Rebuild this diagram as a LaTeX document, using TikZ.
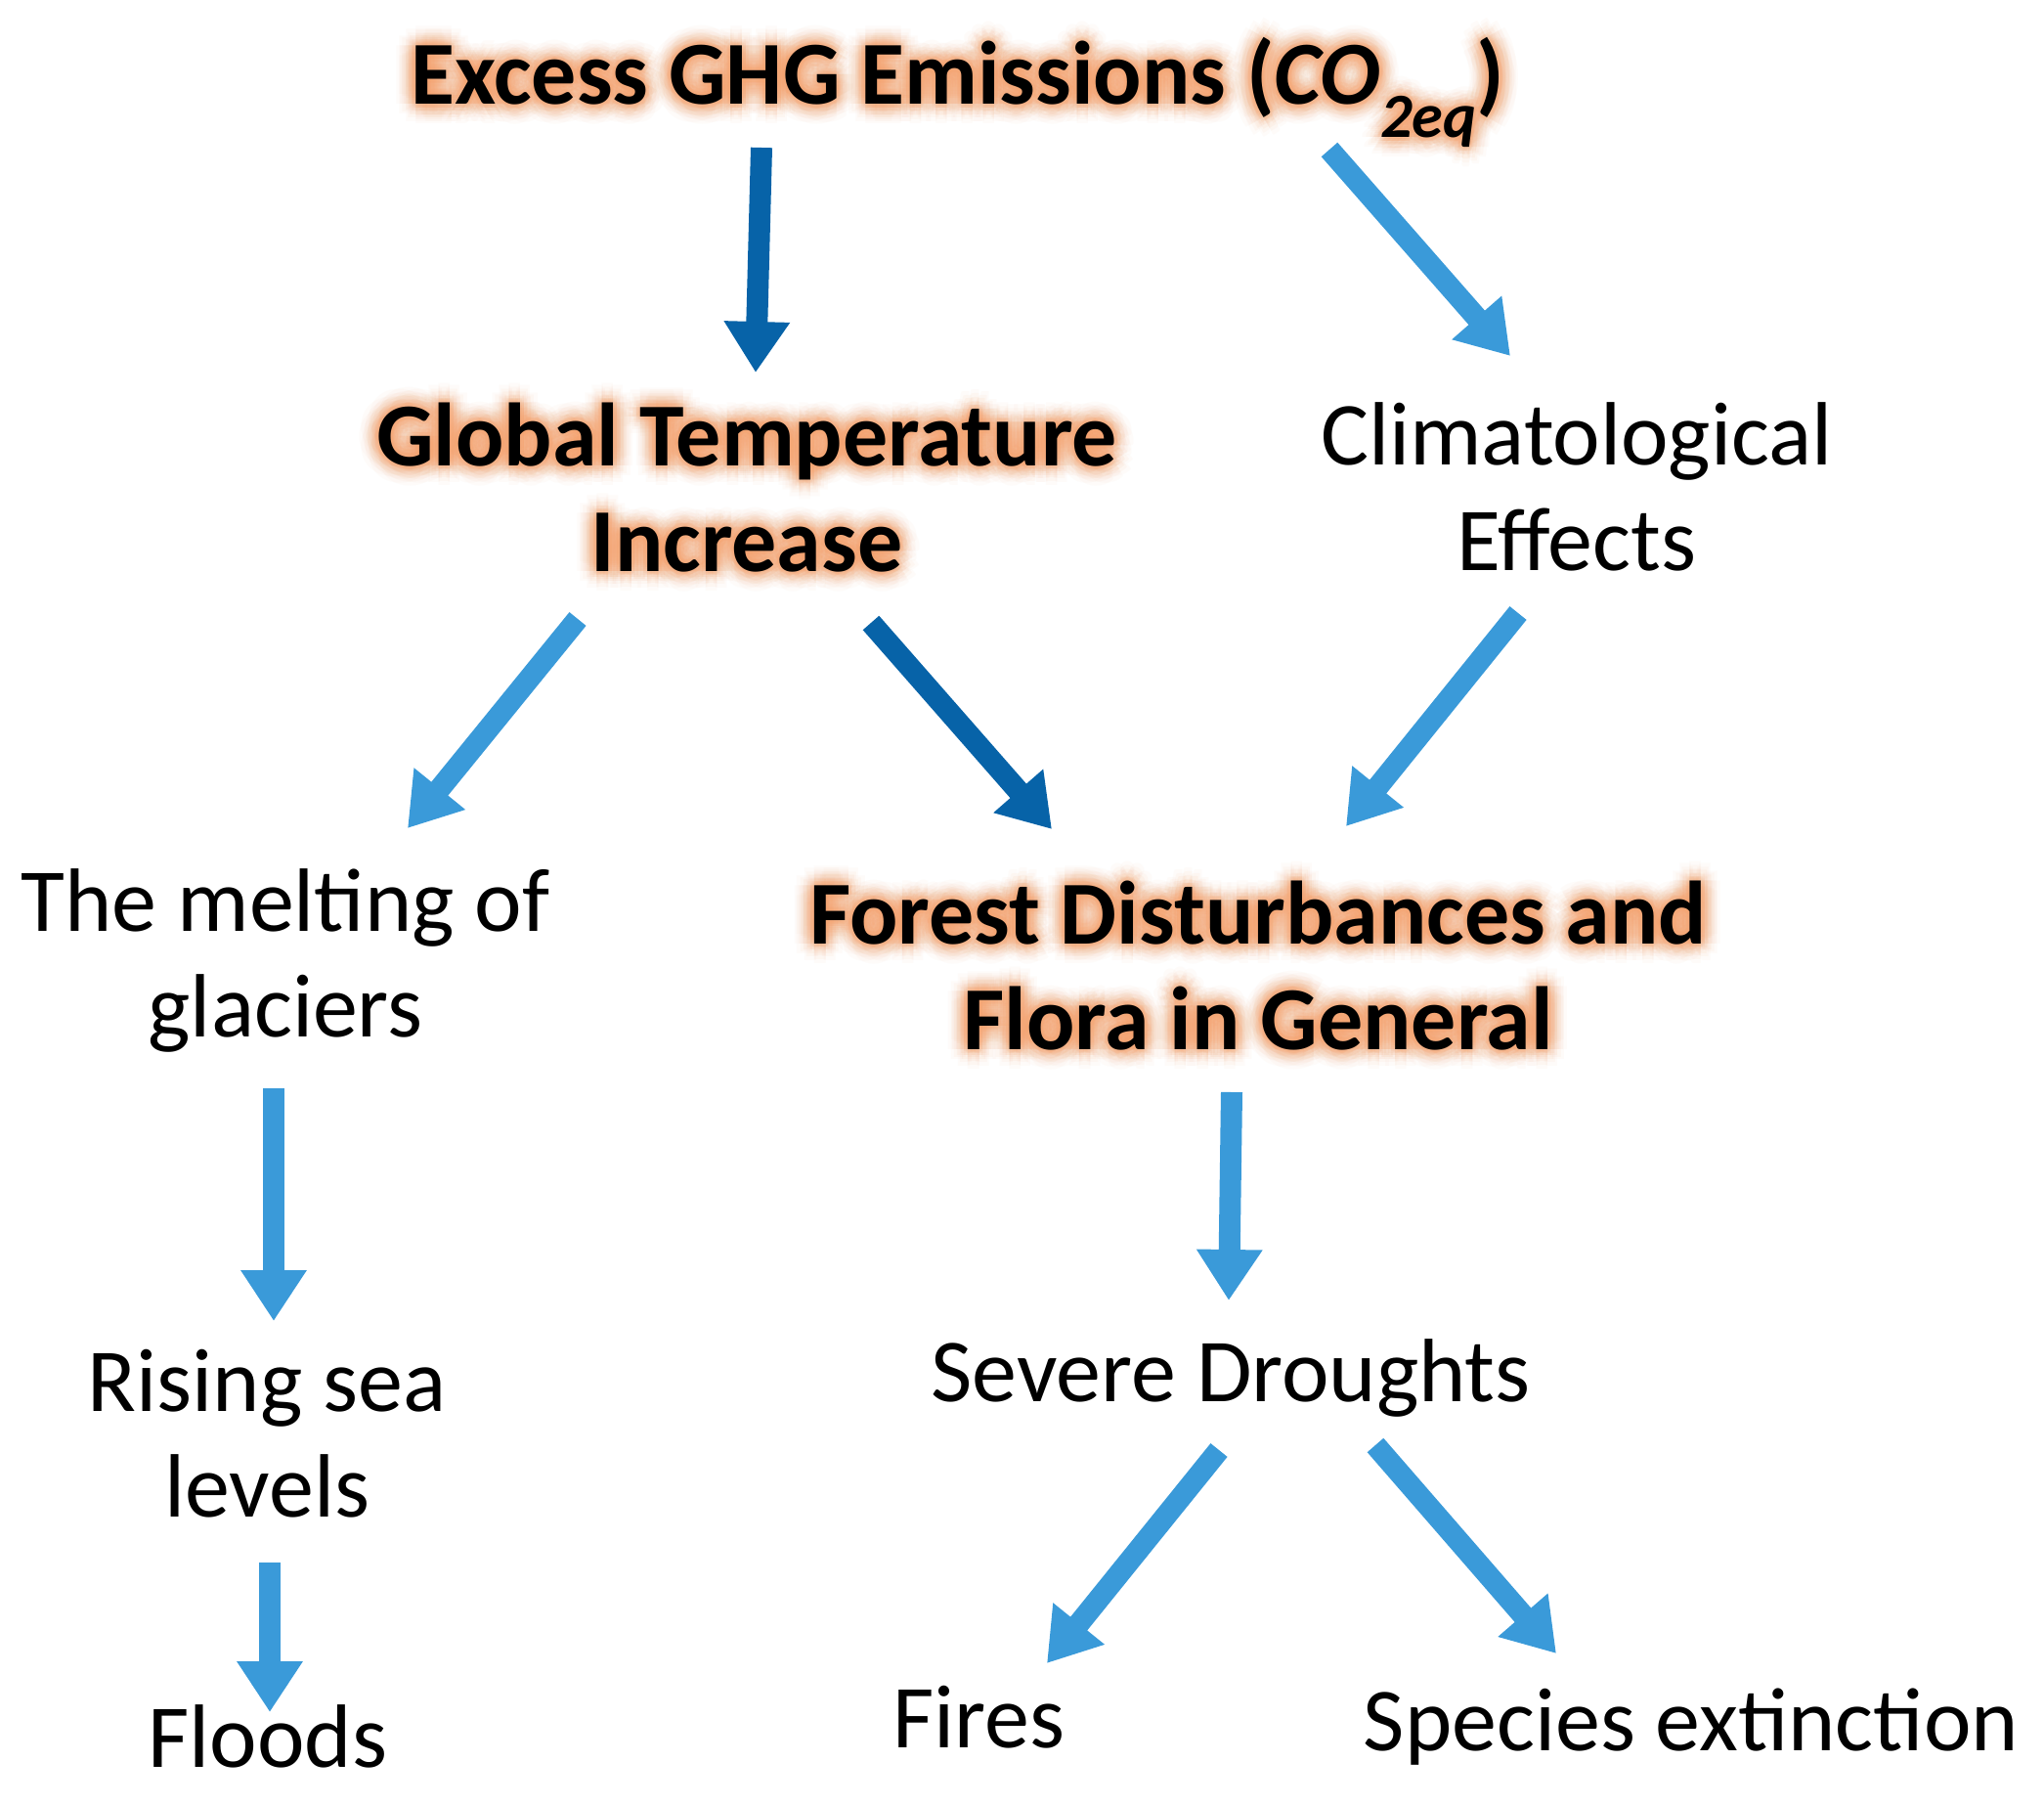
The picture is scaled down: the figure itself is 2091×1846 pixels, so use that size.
\documentclass[tikz,border=0pt]{standalone}
\usepackage{fontspec}
\setmainfont{Carlito}
\usetikzlibrary{arrows.meta,calc}
\definecolor{darkblue}{HTML}{0763A8}
\definecolor{lightblue}{HTML}{3A9AD9}
\definecolor{glowor}{HTML}{F4A26C}
\tikzset{
  lbl/.style={inner sep=0pt, anchor=base, align=center, font=\fontsize{92}{108}\selectfont, text=black},
  lblb/.style={lbl, font=\fontsize{92}{108}\selectfont\bfseries},
  glowst/.style={lblb, text=glowor},
  arr/.style={line width=22pt, -{Triangle[width=64pt,length=52pt]}},
  arrl/.style={arr, draw=lightblue},
  arrd/.style={arr, draw=darkblue},
}
\newcommand\glownode[3]{%
  \foreach \r/\o in {20/0.035,16/0.05,12/0.07,8/0.09,4/0.11}{%
    \foreach \a in {0,30,...,330}{%
      \node[glowst, text opacity=\o] (#1-g\r-\a) at ($(#2)+(\a:\r pt)$) {#3};
    }%
  }%
  \node[lblb] (#1) at (#2) {#3};%
}
\begin{document}
\begin{tikzpicture}[x=1pt,y=-1pt]
\useasboundingbox[fill=white] (0,0) rectangle (2091,1846);

% glowing (bold) labels; anchor = baseline of last line
\glownode{ghg}{980,107}{Excess GHG Emissions ({\itshape CO\textsubscript{\itshape 2eq}})}
\glownode{gti}{764,584}{Global Temperature\\Increase}
\glownode{forest}{1287,1073}{Forest Disturbances and\\Flora in General}

% plain labels
\node[lbl] (clim) at (1613,583) {Climatological\\Effects};
\node[lbl] (melt) at (292,1060) {The melting of\\glaciers};
\node[lbl] (sev) at (1259,1433) {Severe Droughts};
\node[lbl] (rise) at (273,1551) {Rising sea\\levels};
\node[lbl] (flood) at (274,1807) {Floods};
\node[lbl] (fire) at (1001,1787) {Fires};
\node[lbl] (spec) at (1730,1790) {Species extinction};

% arrow end points
\coordinate (a1s) at (779,151);  \coordinate (a1e) at (773,381);
\coordinate (a2s) at (1360,153); \coordinate (a2e) at (1545,364);
\coordinate (a3s) at (591,633);  \coordinate (a3e) at (417,847);
\coordinate (a4s) at (891,637);  \coordinate (a4e) at (1076,848);
\coordinate (a5s) at (1553,627); \coordinate (a5e) at (1377,845);
\coordinate (a6s) at (280,1113); \coordinate (a6e) at (280,1351);
\coordinate (a7s) at (1260,1117);\coordinate (a7e) at (1257,1330);
\coordinate (a8s) at (1247,1483);\coordinate (a8e) at (1071,1701);
\coordinate (a9s) at (1407,1478);\coordinate (a9e) at (1592,1691);
\coordinate (a10s) at (276,1598);\coordinate (a10e) at (276,1751);

\draw[arrd] (a1s) -- (a1e);
\draw[arrl] (a2s) -- (a2e);
\draw[arrl] (a3s) -- (a3e);
\draw[arrd] (a4s) -- (a4e);
\draw[arrl] (a5s) -- (a5e);
\draw[arrl] (a6s) -- (a6e);
\draw[arrl] (a7s) -- (a7e);
\draw[arrl] (a8s) -- (a8e);
\draw[arrl] (a9s) -- (a9e);
\draw[arrl] (a10s) -- (a10e);
\end{tikzpicture}
\end{document}
